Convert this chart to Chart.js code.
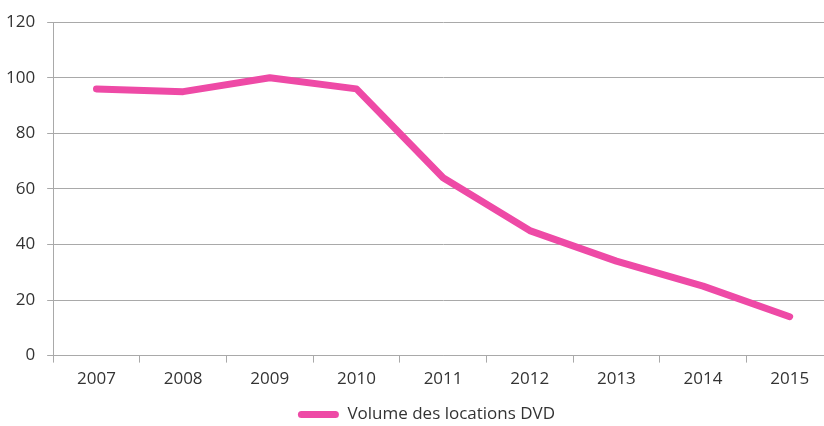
<!DOCTYPE html>
<html lang="fr">
<head>
    <meta charset="UTF-8">
    <title>Volume des locations DVD</title>
    <script src="https://cdn.jsdelivr.net/npm/chart.js/dist/chart.umd.min.js"></script>
    <style>
        html, body { margin: 0; padding: 0; background: #fff; overflow: hidden; }
        #wrap { width: 839px; height: 433px; margin-left: -6px; }
    </style>
</head>
<body>
    <div id="wrap"><canvas id="chart"></canvas></div>
    <script>
        // data
        const years = ['2007', '2008', '2009', '2010', '2011', '2012', '2013', '2014', '2015'];
        const dvdVolume = [96, 95, 100, 96, 64, 45, 34, 25, 14];
        const seriesLabel = 'Volume des locations DVD';

        const pink = '#ee4aa6';
        const gridGray = '#a9a9a9';
        const textGray = '#333333';

        Chart.defaults.font.family = "'Open Sans', sans-serif";
        Chart.defaults.color = textGray;

        // the legend in the original sits a little right of centre
        const legendNudge = {
            id: 'legendNudge',
            afterLayout(chart) {
                chart.legend.left += 13;
                chart.legend.right += 13;
            }
        };

        new Chart(document.getElementById('chart'), {
            type: 'line',
            data: {
                labels: years,
                datasets: [{
                    label: seriesLabel,
                    data: dvdVolume,
                    borderColor: pink,
                    backgroundColor: pink,
                    borderWidth: 7,
                    borderCapStyle: 'round',
                    borderJoinStyle: 'round',
                    pointRadius: 0,
                    tension: 0
                }]
            },
            options: {
                responsive: true,
                maintainAspectRatio: false,
                animation: false,
                layout: { padding: { top: 14, left: 0, right: 0, bottom: 0 } },
                scales: {
                    x: {
                        offset: true,
                        grid: {
                            offset: true,
                            drawOnChartArea: false,
                            color: gridGray,
                            tickLength: 7
                        },
                        border: { color: gridGray },
                        ticks: { font: { size: 17 }, padding: 6 }
                    },
                    y: {
                        min: 0,
                        max: 120,
                        ticks: { stepSize: 20, font: { size: 17 }, padding: 12 },
                        grid: { color: gridGray, tickLength: 6 },
                        border: { color: gridGray }
                    }
                },
                plugins: {
                    legend: {
                        position: 'bottom',
                        labels: {
                            boxWidth: 41,
                            boxHeight: 7,
                            padding: 11,
                            useBorderRadius: true,
                            borderRadius: 3.5,
                            font: { size: 17 },
                            generateLabels: (chart) =>
                                Chart.defaults.plugins.legend.labels.generateLabels(chart)
                                    .map(item => ({ ...item, lineWidth: 0 }))
                        }
                    },
                    tooltip: { enabled: false }
                }
            },
            plugins: [legendNudge]
        });
    </script>
</body>
</html>
